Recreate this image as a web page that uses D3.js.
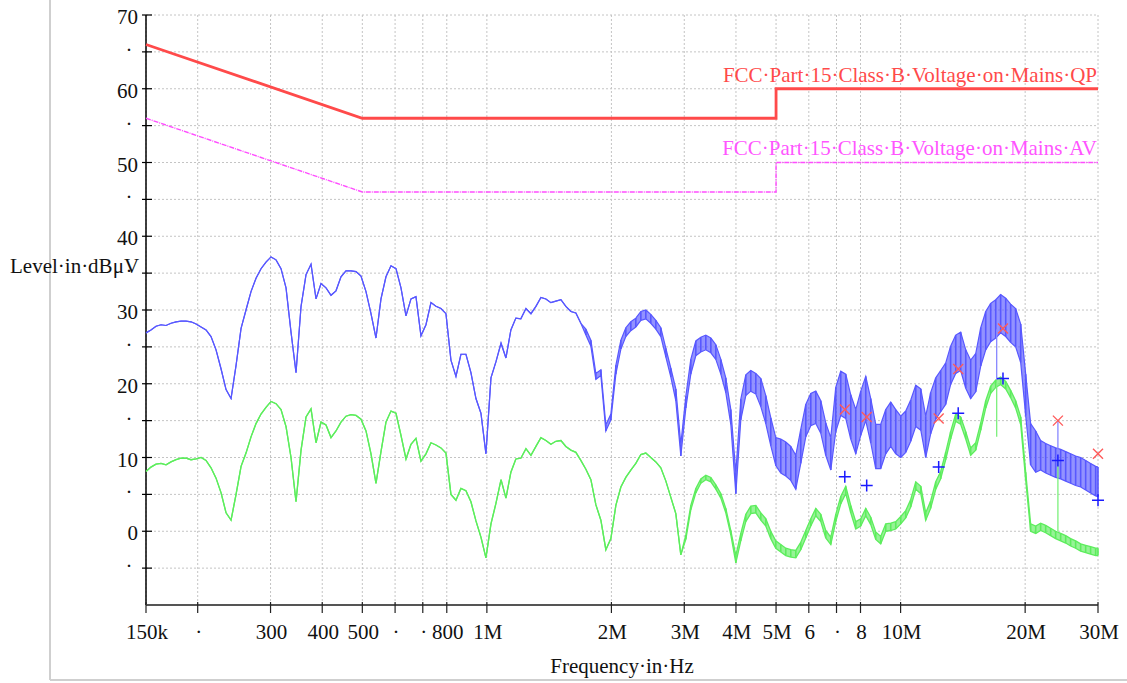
<!DOCTYPE html>
<html>
<head>
<meta charset="utf-8">
<script src="https://cdnjs.cloudflare.com/ajax/libs/d3/7.8.5/d3.min.js"></script>
<style>
body { margin: 0; background: #fff; }
text { font-family: "Liberation Serif", "Times New Roman", serif; font-size: 21px; fill: #111; }
</style>
</head>
<body>
<script>
// sweep frequencies in MHz
var freqMHz = [
  0.1500, 0.1542, 0.1586, 0.1631, 0.1677, 0.1724, 0.1773, 0.1823, 0.1874, 0.1927, 0.1982, 0.2038,
  0.2095, 0.2154, 0.2215, 0.2278, 0.2342, 0.2408, 0.2476, 0.2546, 0.2617, 0.2691, 0.2767, 0.2845,
  0.2925, 0.3008, 0.3093, 0.3180, 0.3270, 0.3362, 0.3457, 0.3555, 0.3655, 0.3758, 0.3864, 0.3973,
  0.4085, 0.4200, 0.4318, 0.4440, 0.4565, 0.4694, 0.4827, 0.4963, 0.5103, 0.5247, 0.5395, 0.5547,
  0.5703, 0.5864, 0.6030, 0.6200, 0.6375, 0.6555, 0.6739, 0.6929, 0.7125, 0.7326, 0.7532, 0.7745,
  0.7963, 0.8188, 0.8419, 0.8656, 0.8900, 0.9151, 0.9410, 0.9675, 0.9948, 1.023, 1.052, 1.082,
  1.112, 1.143, 1.175, 1.208, 1.243, 1.278, 1.314, 1.351, 1.389, 1.428, 1.468, 1.510,
  1.552, 1.596, 1.641, 1.687, 1.735, 1.784, 1.834, 1.886, 1.939, 1.994, 2.050, 2.108,
  2.167, 2.228, 2.291, 2.356, 2.422, 2.490, 2.561, 2.633, 2.708, 2.784, 2.862, 2.943,
  3.026, 3.111, 3.199, 3.289, 3.382, 3.478, 3.576, 3.677, 3.780, 3.887, 3.997, 4.109,
  4.225, 4.344, 4.467, 4.593, 4.722, 4.855, 4.992, 5.133, 5.278, 5.427, 5.580, 5.737,
  5.899, 6.066, 6.237, 6.413, 6.593, 6.780, 6.971, 7.167, 7.369, 7.577, 7.791, 8.011,
  8.237, 8.469, 8.708, 8.953, 9.206, 9.466, 9.733, 10.01, 10.29, 10.58, 10.88, 11.19,
  11.50, 11.82, 12.16, 12.50, 12.85, 13.21, 13.59, 13.97, 14.37, 14.77, 15.19, 15.62,
  16.06, 16.51, 16.98, 17.45, 17.95, 18.45, 18.97, 19.51, 20.06, 20.62, 21.21, 21.80,
  22.42, 23.05, 23.70, 24.37, 25.06, 25.76, 26.49, 27.24, 28.01, 28.79, 29.61, 30.00
];

// peak trace (blue), dBuV, and half width of its noise band
var peakLevel = [
  26.9, 27.3, 27.8, 28.0, 27.9, 28.2, 28.4, 28.5, 28.5, 28.4, 28.1, 27.7,
  27.3, 26.4, 24.6, 22.0, 19.2, 18.0, 22.5, 27.5, 30.0, 32.5, 34.3, 35.6,
  36.5, 37.2, 36.8, 35.6, 33.0, 27.0, 21.5, 30.5, 34.8, 36.2, 31.5, 33.6,
  33.0, 32.0, 32.6, 34.5, 35.3, 35.3, 35.2, 34.6, 32.5, 29.5, 26.2, 31.5,
  34.5, 36.0, 35.6, 33.0, 29.2, 31.5, 31.8, 26.5, 28.0, 31.0, 30.5, 30.2,
  29.5, 23.2, 21.0, 24.0, 24.0, 21.5, 18.0, 16.0, 10.5, 20.8, 23.0, 25.5,
  23.5, 27.3, 28.9, 28.8, 30.2, 29.5, 30.5, 31.7, 31.5, 31.0, 31.2, 31.4,
  30.5, 29.8, 29.6, 28.2, 27.0, 25.5, 21.0, 21.5, 14.0, 15.5, 21.9, 25.3,
  27.0, 27.8, 28.3, 29.2, 29.4, 28.8, 28.0, 27.0, 24.2, 21.5, 18.5, 11.0,
  17.5, 22.3, 24.8, 25.3, 25.6, 25.2, 24.3, 22.3, 19.8, 15.5, 6.5, 16.5,
  19.8, 20.4, 20.0, 18.8, 16.5, 13.5, 10.8, 10.2, 9.8, 9.2, 8.0, 11.5,
  15.0, 16.5, 16.8, 15.5, 12.5, 10.5, 16.5, 18.7, 18.3, 15.5, 13.5, 16.0,
  18.0, 15.0, 11.5, 11.5, 13.5, 14.5, 13.5, 12.8, 13.5, 15.0, 17.0, 16.5,
  12.8, 16.0, 18.0, 19.0, 20.0, 22.5, 24.0, 24.4, 22.0, 20.6, 21.5, 25.0,
  27.2, 28.3, 28.8, 29.5, 29.0, 28.2, 27.6, 25.5, 18.5, 11.8, 10.8, 10.3,
  9.9, 9.6, 9.3, 9.1, 8.8, 8.5, 8.2, 8.0, 7.6, 7.2, 6.8, 6.7
];
var peakNoise = [
  0, 0, 0, 0, 0, 0, 0, 0, 0, 0, 0, 0,
  0, 0, 0, 0, 0, 0, 0, 0, 0, 0, 0, 0,
  0, 0, 0, 0, 0, 0, 0, 0, 0, 0, 0, 0,
  0, 0, 0, 0, 0, 0, 0, 0, 0, 0, 0, 0,
  0, 0, 0, 0, 0, 0, 0, 0, 0, 0, 0, 0,
  0, 0, 0, 0, 0, 0, 0, 0, 0, 0, 0, 0,
  0, 0, 0, 0, 0, 0, 0, 0, 0, 0, 0, 0,
  0, 0, 0, 0, 0.4, 0.4, 0.4, 0.4, 0.4, 0.4, 0.6, 0.6,
  0.6, 0.6, 0.6, 0.6, 0.6, 0.6, 0.6, 0.6, 0.6, 0.6, 0.8, 0.8,
  0.8, 1.0, 1.0, 1.0, 1.0, 1.0, 1.0, 1.0, 1.0, 1.0, 1.4, 1.4,
  1.4, 1.4, 1.4, 1.9, 1.9, 1.9, 1.9, 2.3, 2.3, 2.3, 2.3, 2.3,
  2.2, 2.2, 2.2, 2.2, 2.2, 2.2, 3.0, 3.0, 3.0, 3.0, 3.0, 3.0,
  3.0, 3.0, 3.0, 3.0, 3.0, 3.0, 3.0, 2.8, 2.8, 2.8, 2.8, 2.8,
  2.8, 2.8, 2.8, 2.8, 2.8, 2.6, 2.6, 2.6, 2.6, 2.6, 2.6, 2.6,
  2.6, 2.6, 2.6, 2.6, 2.6, 2.6, 2.6, 2.6, 2.8, 2.8, 2.8, 2.0,
  2.0, 2.0, 2.0, 2.0, 2.0, 2.0, 2.0, 2.0, 2.0, 2.0, 2.0, 2.0
];

// average trace (green), dBuV, and half width of its noise band
var avgLevel = [
  8.1, 8.7, 9.1, 9.2, 9.0, 9.4, 9.7, 9.9, 9.9, 9.7, 9.8, 10.0,
  9.6, 8.6, 7.2, 5.2, 2.5, 1.5, 5.0, 8.8, 10.6, 12.8, 14.6, 15.9,
  16.8, 17.6, 17.3, 16.5, 14.2, 10.0, 4.0, 11.0, 15.5, 16.6, 12.0, 14.8,
  14.4, 12.7, 13.6, 14.8, 15.6, 15.8, 15.7, 15.2, 13.6, 10.5, 6.5, 10.8,
  14.8, 16.3, 16.0, 13.0, 9.8, 11.8, 12.6, 9.5, 10.5, 12.0, 11.7, 11.3,
  10.6, 5.0, 4.2, 5.8, 5.5, 4.0, 1.4, -0.8, -3.6, 1.0, 3.8, 7.0,
  4.5, 8.0, 9.8, 9.9, 11.2, 10.3, 11.5, 12.7, 12.3, 11.8, 12.2, 12.3,
  11.5, 11.0, 10.7, 9.6, 8.4, 7.0, 3.6, 1.5, -2.5, -1.0, 3.5, 6.0,
  7.3, 8.3, 9.2, 10.4, 10.6, 10.0, 9.4, 8.6, 6.8, 4.6, 2.4, -3.2,
  -0.8, 3.2, 5.5, 6.8, 7.3, 7.0, 6.0, 4.8, 2.8, -0.2, -3.8, -0.8,
  1.8, 2.9, 3.0, 2.0, 1.2, -0.5, -1.8, -2.3, -2.8, -3.0, -3.1, -2.0,
  -0.4, 1.2, 2.6, 1.8, -0.4, -1.3, 1.8, 4.2, 5.6, 3.0, 0.8, 1.2,
  2.6, 1.4, -0.6, -1.2, 0.5, 0.6, 0.8, 1.5, 2.3, 3.8, 6.2, 5.6,
  2.0, 3.6, 6.2, 7.6, 10.2, 13.0, 15.4, 15.0, 13.0, 10.8, 11.5, 14.2,
  17.2, 19.2, 20.0, 20.4, 19.8, 18.6, 17.2, 15.0, 7.5, 0.5, 0.2, 0.6,
  0.3, -0.1, -0.5, -0.8, -1.1, -1.5, -1.8, -2.2, -2.4, -2.6, -2.8, -2.8
];
var avgNoise = [
  0, 0, 0, 0, 0, 0, 0, 0, 0, 0, 0, 0,
  0, 0, 0, 0, 0, 0, 0, 0, 0, 0, 0, 0,
  0, 0, 0, 0, 0, 0, 0, 0, 0, 0, 0, 0,
  0, 0, 0, 0, 0, 0, 0, 0, 0, 0, 0, 0,
  0, 0, 0, 0, 0, 0, 0, 0, 0, 0, 0, 0,
  0, 0, 0, 0, 0, 0, 0, 0, 0, 0, 0, 0,
  0, 0, 0, 0, 0, 0, 0, 0, 0, 0, 0, 0,
  0, 0, 0, 0, 0, 0, 0, 0, 0, 0, 0, 0,
  0, 0, 0, 0, 0, 0, 0, 0, 0, 0, 0, 0,
  0.3, 0.3, 0.3, 0.3, 0.3, 0.3, 0.3, 0.3, 0.3, 0.3, 0.5, 0.5,
  0.5, 0.5, 0.5, 0.5, 0.5, 0.5, 0.5, 0.5, 0.5, 0.5, 0.5, 0.5,
  0.5, 0.5, 0.5, 0.5, 0.5, 0.5, 0.5, 0.5, 0.5, 0.5, 0.5, 0.5,
  0.5, 0.5, 0.5, 0.5, 0.5, 0.5, 0.5, 0.5, 0.5, 0.5, 0.5, 0.5,
  0.5, 0.5, 0.5, 0.5, 0.5, 0.5, 0.5, 0.5, 0.5, 0.5, 0.5, 0.5,
  0.5, 0.5, 0.5, 0.5, 0.5, 0.5, 0.5, 0.5, 0.5, 0.5, 0.5, 0.5,
  0.5, 0.5, 0.5, 0.5, 0.5, 0.5, 0.5, 0.5, 0.5, 0.5, 0.5, 0.5
];

// limit lines
var limitF = [0.15, 0.5, 5, 5, 30];
var qpLimit = [66, 56, 56, 60, 60];
var avLimit = [56, 46, 46, 50, 50];
var qpLimitName = "FCC\u00b7Part\u00b715\u00b7Class\u00b7B\u00b7Voltage\u00b7on\u00b7Mains\u00b7QP";
var avLimitName = "FCC\u00b7Part\u00b715\u00b7Class\u00b7B\u00b7Voltage\u00b7on\u00b7Mains\u00b7AV";

// final measurements
var finalF = [7.33, 8.28, 12.36, 13.78, 17.68, 24.0, 30.0];
var qpFinal = [16.5, 15.5, 15.3, 22.0, 27.5, 15.0, 10.5];
var avFinal = [7.4, 6.2, 8.7, 16.0, 20.7, 9.6, 4.2];

// re-measure spikes in the traces
var spikeF = [17.07, 24.0];
var spikePeak = [[27.4, 20.5], [15.0, 9.6]];
var spikeAvg = [[20.1, 12.8], [9.6, 0.0]];

// axes
var xTicks = [0.15, 0.2, 0.3, 0.4, 0.5, 0.6, 0.7, 0.8, 1, 2, 3, 4, 5, 6, 7, 8, 10, 20, 30];
var xTickLabels = ["150k", "\u00b7", "300", "400", "500", "\u00b7", "\u00b7", "800", "1M", "2M", "3M", "4M", "5M", "6", "\u00b7", "8", "10M", "20M", "30M"];
var yMajor = [0, 10, 20, 30, 40, 50, 60, 70];
var yMinor = [-5, 5, 15, 25, 35, 45, 55, 65];

var svg = d3.select("body").append("svg")
  .attr("width", 1127)
  .attr("height", 683);

var x = d3.scaleLog().domain([0.15, 30]).range([146, 1098]);
var y = d3.scaleLinear().domain([-10, 70]).range([605, 15]);

// outer frame
svg.append("line").attr("x1", 50).attr("x2", 50).attr("y1", 0).attr("y2", 680)
  .attr("stroke", "#cfcfcf").attr("stroke-width", 2);
svg.append("line").attr("x1", 50).attr("x2", 1127).attr("y1", 680).attr("y2", 680)
  .attr("stroke", "#cfcfcf").attr("stroke-width", 2);

// grid
svg.selectAll(".vgrid").data(xTicks).enter().append("line")
  .attr("x1", function(d) { return x(d); }).attr("x2", function(d) { return x(d); })
  .attr("y1", y(70)).attr("y2", y(-10))
  .attr("stroke", "#c4c4c4").attr("stroke-dasharray", "2,2");
svg.selectAll(".hgrid").data(yMajor.concat(yMinor)).enter().append("line")
  .attr("x1", x(0.15)).attr("x2", x(30))
  .attr("y1", function(d) { return y(d); }).attr("y2", function(d) { return y(d); })
  .attr("stroke", "#c4c4c4").attr("stroke-dasharray", "2,2");

// axis lines and ticks
svg.append("line").attr("x1", 146).attr("x2", 146).attr("y1", y(70)).attr("y2", y(-10))
  .attr("stroke", "#000").attr("stroke-width", 1.5);
svg.append("line").attr("x1", 146).attr("x2", 1098).attr("y1", y(-10)).attr("y2", y(-10))
  .attr("stroke", "#555").attr("stroke-width", 2);

svg.selectAll(".ytick").data(yMajor.concat(yMinor)).enter().append("line")
  .attr("x1", 142).attr("x2", 152)
  .attr("y1", function(d) { return y(d); }).attr("y2", function(d) { return y(d); })
  .attr("stroke", "#000").attr("stroke-width", 1.2);
svg.selectAll(".xtick").data(xTicks).enter().append("line")
  .attr("x1", function(d) { return x(d); }).attr("x2", function(d) { return x(d); })
  .attr("y1", 602).attr("y2", 613)
  .attr("stroke", "#222").attr("stroke-width", 1.2);

svg.selectAll(".ylab").data(yMajor).enter().append("text")
  .attr("x", 138).attr("y", function(d) { return y(d) + 9; })
  .attr("text-anchor", "end")
  .text(function(d) { return d; });
svg.selectAll(".ylabm").data(yMinor).enter().append("text")
  .attr("x", 129).attr("y", function(d) { return y(d) + 5; })
  .attr("text-anchor", "middle")
  .text("\u00b7");

svg.selectAll(".xlab").data(xTicks).enter().append("text")
  .attr("x", function(d) { return x(d) + 1; }).attr("y", 639)
  .attr("text-anchor", "middle")
  .text(function(d, i) { return xTickLabels[i]; });

svg.append("text").attr("x", 10).attr("y", 273).text("Level\u00b7in\u00b7dB\u03bcV");
svg.append("text").attr("x", 622).attr("y", 673).attr("text-anchor", "middle").text("Frequency\u00b7in\u00b7Hz");

// limit lines
var limitLine = d3.line()
  .x(function(d, i) { return x(limitF[i]); })
  .y(function(d) { return y(d); });
svg.append("path").attr("d", limitLine(qpLimit))
  .attr("fill", "none").attr("stroke", "#ff4a4a").attr("stroke-width", 2.8);
svg.append("path").attr("d", limitLine(avLimit))
  .attr("fill", "none").attr("stroke", "#ff4dff").attr("stroke-width", 1.4)
  .attr("stroke-dasharray", "5,1,1,1");

svg.append("text").attr("x", 1097).attr("y", 82).attr("text-anchor", "end")
  .style("fill", "#ff4a4a").text(qpLimitName);
svg.append("text").attr("x", 1097).attr("y", 155).attr("text-anchor", "end")
  .style("fill", "#ff55ff").text(avLimitName);

// traces: noise band drawn as fill, vertical strokes and edges
function drawTrace(levels, noise, color, width) {
  var band = d3.area()
    .x(function(d, i) { return x(freqMHz[i]); })
    .y0(function(d, i) { return y(d - noise[i]); })
    .y1(function(d, i) { return y(d + noise[i]); });
  var hi = d3.line()
    .x(function(d, i) { return x(freqMHz[i]); })
    .y(function(d, i) { return y(d + noise[i]); });
  var lo = d3.line()
    .x(function(d, i) { return x(freqMHz[i]); })
    .y(function(d, i) { return y(d - noise[i]); });
  var noisy = d3.range(levels.length).filter(function(i) { return noise[i] > 0; });
  var g = svg.append("g");
  g.append("path").attr("d", band(levels))
    .attr("fill", color).attr("fill-opacity", 0.65).attr("stroke", "none");
  g.selectAll("line").data(noisy).enter().append("line")
    .attr("x1", function(i) { return x(freqMHz[i]); })
    .attr("x2", function(i) { return x(freqMHz[i]); })
    .attr("y1", function(i) { return y(levels[i] + noise[i]); })
    .attr("y2", function(i) { return y(levels[i] - noise[i]); })
    .attr("stroke", color).attr("stroke-width", 1.6);
  g.append("path").attr("d", hi(levels))
    .attr("fill", "none").attr("stroke", color).attr("stroke-width", width);
  g.append("path").attr("d", lo(levels))
    .attr("fill", "none").attr("stroke", color).attr("stroke-width", width);
}

drawTrace(avgLevel, avgNoise, "#5ded5d", 1.3);
drawTrace(peakLevel, peakNoise, "#5858ff", 1.2);

svg.selectAll(".spikep").data(spikeF).enter().append("line")
  .attr("x1", function(d) { return x(d); }).attr("x2", function(d) { return x(d); })
  .attr("y1", function(d, i) { return y(spikePeak[i][0]); })
  .attr("y2", function(d, i) { return y(spikePeak[i][1]); })
  .attr("stroke", "#8888ff").attr("stroke-width", 1.3);
svg.selectAll(".spikea").data(spikeF).enter().append("line")
  .attr("x1", function(d) { return x(d); }).attr("x2", function(d) { return x(d); })
  .attr("y1", function(d, i) { return y(spikeAvg[i][0]); })
  .attr("y2", function(d, i) { return y(spikeAvg[i][1]); })
  .attr("stroke", "#7cf07c").attr("stroke-width", 1.3);

// final measurement markers
svg.selectAll(".qp").data(qpFinal).enter().append("path")
  .attr("d", function(d, i) {
    var cx = x(finalF[i]), cy = y(d), r = 5;
    return "M" + (cx - r) + "," + (cy - r) + "L" + (cx + r) + "," + (cy + r) +
      "M" + (cx - r) + "," + (cy + r) + "L" + (cx + r) + "," + (cy - r);
  })
  .attr("stroke", "#ff5a5a").attr("stroke-width", 1.4).attr("fill", "none");
svg.selectAll(".av").data(avFinal).enter().append("path")
  .attr("d", function(d, i) {
    var cx = x(finalF[i]), cy = y(d), r = 6;
    return "M" + (cx - r) + "," + cy + "L" + (cx + r) + "," + cy +
      "M" + cx + "," + (cy - r) + "L" + cx + "," + (cy + r);
  })
  .attr("stroke", "#1a1aff").attr("stroke-width", 1.5).attr("fill", "none");
</script>
</body>
</html>
